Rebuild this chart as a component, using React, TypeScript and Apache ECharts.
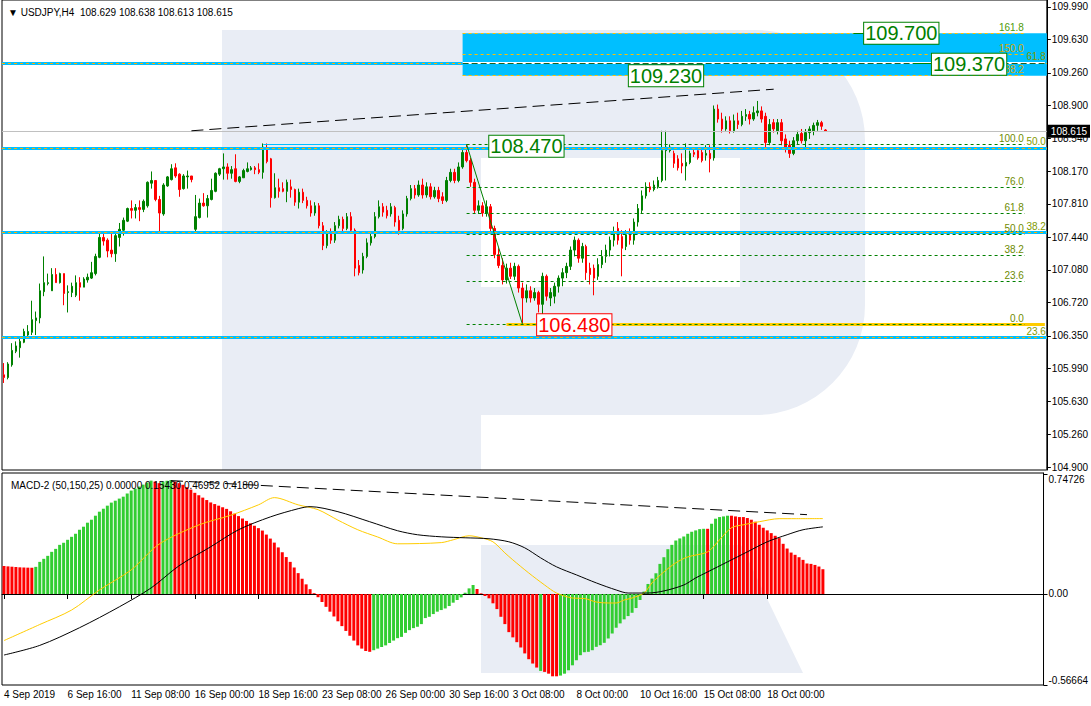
import React, { useEffect, useRef } from 'react';
import * as echarts from 'echarts';

const FONT = 'Liberation Sans, Arial, sans-serif';

const timeLabels = ['4 Sep 2019', '6 Sep 16:00', '11 Sep 08:00', '16 Sep 00:00', '18 Sep 16:00', '23 Sep 08:00', '26 Sep 00:00', '30 Sep 16:00', '3 Oct 08:00', '8 Oct 00:00', '10 Oct 16:00', '15 Oct 08:00', '18 Oct 00:00'];
const priceTicks = [104.9, 105.26, 105.63, 105.99, 106.35, 106.72, 107.08, 107.44, 107.81, 108.17, 108.54, 108.9, 109.26, 109.63, 109.99];
const macdTicks = [-0.56664, 0, 0.74726];

const opens = [105.92,105.89,106.03,106.18,106.22,106.28,106.36,106.39,106.52,106.55,106.84,106.93,106.85,107.03,106.94,107.04,106.83,106.83,106.80,106.94,106.89,106.97,106.99,107.04,107.22,107.44,107.41,107.30,107.26,107.44,107.52,107.62,107.76,107.74,107.77,107.75,107.79,108.04,108.07,107.86,107.70,108.01,108.08,108.21,108.14,107.98,108.11,108.12,107.53,107.66,107.82,107.79,107.86,107.95,108.14,108.20,108.22,108.15,108.20,108.06,108.10,108.17,108.19,108.21,108.19,108.16,108.42,108.31,107.88,107.99,107.98,107.95,108.00,107.97,107.83,107.94,107.85,107.79,107.71,107.79,107.57,107.35,107.50,107.41,107.57,107.64,107.54,107.67,107.52,107.13,107.08,107.23,107.38,107.45,107.67,107.78,107.74,107.70,107.77,107.63,107.54,107.70,107.87,107.98,107.91,108.02,107.91,108.00,107.89,107.96,107.89,107.85,108.07,108.16,108.07,108.22,108.38,108.29,108.05,107.74,107.79,107.71,107.78,107.54,107.25,107.13,106.97,107.10,107.01,107.12,106.88,106.77,106.85,106.77,106.83,106.70,107.01,106.77,106.79,106.90,106.99,107.05,107.12,107.30,107.41,107.21,107.34,107.10,107.10,107.01,107.14,107.23,107.30,107.41,107.54,107.45,107.34,107.47,107.41,107.61,107.74,107.90,108.00,107.97,108.00,108.07,108.40,108.40,108.37,108.31,108.26,108.23,108.27,108.38,108.40,108.38,108.35,108.37,108.32,108.86,108.75,108.64,108.73,108.62,108.73,108.69,108.78,108.80,108.75,108.82,108.84,108.78,108.49,108.71,108.62,108.71,108.53,108.46,108.37,108.51,108.59,108.51,108.60,108.62,108.68,108.71,108.629];
const closes = [105.89,106.04,106.19,106.24,106.29,106.40,106.40,106.53,106.55,106.85,106.94,106.94,107.03,106.94,107.04,106.82,106.84,106.90,106.94,106.89,106.98,107.00,107.05,107.23,107.44,107.40,107.29,107.26,107.46,107.53,107.63,107.76,107.74,107.77,107.75,107.84,108.05,108.07,107.86,107.71,108.02,108.11,108.20,108.12,107.97,108.12,108.12,108.08,107.67,107.82,107.79,107.87,107.96,108.15,108.20,108.22,108.15,108.19,108.06,108.11,108.18,108.20,108.21,108.19,108.16,108.44,108.28,107.88,107.99,107.95,107.95,108.05,107.97,107.83,107.94,107.85,107.79,107.71,107.79,107.57,107.35,107.50,107.41,107.57,107.64,107.54,107.67,107.52,107.10,107.05,107.23,107.38,107.45,107.67,107.78,107.72,107.68,107.78,107.61,107.52,107.70,107.87,107.98,107.91,108.02,107.91,108.00,107.89,107.96,107.87,107.85,108.07,108.16,108.07,108.22,108.38,108.29,108.05,107.74,107.79,107.71,107.78,107.54,107.25,107.13,106.97,107.10,107.01,107.12,106.88,106.77,106.85,106.77,106.83,106.70,107.01,106.79,106.83,106.90,106.99,107.05,107.12,107.30,107.41,107.21,107.34,107.05,107.03,106.99,107.14,107.23,107.30,107.41,107.50,107.41,107.32,107.47,107.41,107.61,107.76,107.90,108.00,107.97,108.02,108.07,108.40,108.44,108.44,108.26,108.21,108.23,108.27,108.37,108.36,108.32,108.29,108.37,108.31,108.86,108.75,108.64,108.73,108.62,108.73,108.69,108.78,108.80,108.75,108.82,108.84,108.75,108.49,108.69,108.64,108.71,108.51,108.42,108.37,108.51,108.58,108.51,108.60,108.64,108.68,108.71,108.67,108.615];
const highs = [106.05,106.06,106.27,106.29,106.34,106.43,106.47,106.74,106.62,106.93,107.23,107.04,107.10,107.10,107.05,107.04,106.91,106.94,107.02,107.00,107.00,107.04,107.17,107.26,107.48,107.48,107.43,107.48,107.48,107.60,107.66,107.77,107.85,107.81,107.85,107.86,108.06,108.17,108.07,107.90,108.04,108.12,108.25,108.26,108.15,108.14,108.18,108.12,107.91,107.87,107.93,107.91,108.09,108.16,108.21,108.37,108.26,108.23,108.36,108.12,108.20,108.27,108.23,108.23,108.26,108.48,108.48,108.32,108.15,108.09,108.05,108.08,108.08,107.98,107.98,107.98,107.89,107.85,107.83,107.82,107.61,107.52,107.54,107.61,107.68,107.67,107.71,107.72,107.54,107.19,107.27,107.43,107.50,107.72,107.85,107.82,107.79,107.82,107.79,107.68,107.74,107.90,108.02,108.02,108.07,108.09,108.05,108.04,108.00,108.00,107.94,108.11,108.20,108.20,108.27,108.44,108.47,108.32,108.09,107.85,107.83,107.85,107.81,107.57,107.32,107.21,107.15,107.16,107.16,107.14,106.94,106.92,106.90,106.88,106.85,107.05,107.03,106.88,106.94,107.02,107.10,107.16,107.34,107.45,107.43,107.38,107.36,107.16,107.14,107.21,107.30,107.36,107.45,107.56,107.61,107.52,107.52,107.54,107.65,107.81,107.96,108.05,108.05,108.07,108.11,108.62,108.62,108.47,108.40,108.35,108.37,108.48,108.40,108.41,108.42,108.43,108.46,108.46,108.90,108.91,108.82,108.78,108.78,108.80,108.82,108.84,108.86,108.84,108.89,108.95,108.89,108.82,108.75,108.75,108.75,108.75,108.58,108.51,108.55,108.62,108.64,108.64,108.67,108.71,108.74,108.73,108.638];
const lows = [105.83,105.87,106.01,106.16,106.11,106.27,106.32,106.36,106.36,106.49,106.79,106.91,106.85,106.94,106.93,106.69,106.61,106.78,106.78,106.74,106.89,106.94,106.98,107.02,107.21,107.35,107.22,107.22,107.17,107.34,107.46,107.61,107.65,107.65,107.62,107.72,107.77,107.98,107.84,107.51,107.68,108.00,108.07,108.10,107.89,107.97,107.98,108.05,107.50,107.65,107.78,107.66,107.85,107.94,108.12,108.08,108.08,108.09,108.05,108.04,108.10,108.16,108.18,108.14,108.14,108.09,108.26,107.77,107.87,107.88,107.94,107.83,107.88,107.79,107.76,107.82,107.76,107.67,107.68,107.54,107.30,107.32,107.37,107.38,107.54,107.50,107.52,107.48,107.01,107.02,107.04,107.21,107.35,107.43,107.65,107.67,107.65,107.67,107.56,107.47,107.52,107.67,107.85,107.87,107.89,107.87,107.88,107.86,107.87,107.83,107.81,107.83,108.05,108.04,108.05,108.20,108.27,108.00,107.70,107.70,107.67,107.67,107.50,107.21,107.10,106.92,106.93,106.98,106.97,106.83,106.48,106.72,106.72,106.74,106.61,106.59,106.74,106.68,106.71,106.83,106.90,106.99,107.08,107.23,107.16,107.16,106.97,106.92,106.80,106.97,107.10,107.16,107.23,107.34,107.36,107.01,107.30,107.36,107.36,107.56,107.70,107.87,107.94,107.95,107.98,108.05,108.07,108.38,108.21,108.18,108.15,108.07,108.25,108.33,108.30,108.27,108.29,108.16,108.29,108.71,108.60,108.62,108.59,108.60,108.64,108.67,108.73,108.69,108.73,108.78,108.71,108.44,108.46,108.60,108.58,108.46,108.38,108.32,108.35,108.47,108.48,108.44,108.53,108.57,108.62,108.63,108.613];

const macdHist = [0.175,0.172,0.17,0.168,0.166,0.165,0.164,0.163,0.169,0.2,0.219,0.2375,0.2625,0.281,0.306,0.319,0.3375,0.356,0.375,0.4,0.419,0.444,0.4625,0.4875,0.5125,0.531,0.55,0.569,0.581,0.594,0.606,0.625,0.644,0.656,0.669,0.681,0.694,0.706,0.7,0.69,0.7,0.705,0.71,0.7,0.69,0.68,0.665,0.65,0.63,0.615,0.6,0.585,0.57,0.56,0.55,0.54,0.53,0.515,0.5,0.485,0.47,0.455,0.44,0.425,0.41,0.395,0.37,0.345,0.32,0.29,0.26,0.23,0.2,0.165,0.13,0.095,0.06,0.03,0.005,-0.02,-0.05,-0.08,-0.11,-0.14,-0.17,-0.2,-0.23,-0.26,-0.29,-0.32,-0.34,-0.355,-0.36,-0.35,-0.34,-0.33,-0.32,-0.305,-0.29,-0.275,-0.267,-0.242,-0.225,-0.2125,-0.204,-0.1875,-0.15,-0.142,-0.125,-0.11,-0.1,-0.09,-0.075,-0.054,-0.0375,-0.021,0.008,0.035,0.056,0.031,0.004,-0.0125,-0.027,-0.058,-0.094,-0.142,-0.1875,-0.2375,-0.27,-0.3,-0.333,-0.37,-0.406,-0.433,-0.458,-0.479,-0.485,-0.496,-0.5125,-0.5125,-0.508,-0.496,-0.475,-0.444,-0.4125,-0.381,-0.3625,-0.36,-0.35,-0.329,-0.319,-0.304,-0.277,-0.246,-0.21,-0.183,-0.158,-0.1375,-0.117,-0.0875,-0.0375,0.015,0.0625,0.096,0.129,0.1875,0.229,0.279,0.306,0.333,0.346,0.358,0.375,0.3875,0.396,0.404,0.406,0.406,0.4375,0.469,0.479,0.483,0.4875,0.4875,0.483,0.479,0.479,0.473,0.4625,0.45,0.431,0.4125,0.396,0.379,0.3625,0.348,0.3125,0.283,0.258,0.244,0.229,0.2125,0.19,0.1875,0.181,0.171,0.1543];
const macdColorRuns: [string, number][] = [['r', 8], ['g', 30], ['r', 2], ['g', 3], ['r', 50], ['g', 26], ['r', 16], ['g', 1], ['r', 4], ['g', 37], ['r', 1], ['g', 5], ['r', 24]];

const signalBars = [0,9,17,24,32,39,49,57,64,68,74,79,84,89,94,99,110,113,117,120,123,126,128,132,136,139,143,146,149,152,154,156,158,161,163,166,169,172,177,180,183,186,190,195,199,206];
const signalVals = [-0.29,-0.19,-0.10,0.025,0.15,0.31,0.43,0.49,0.555,0.60,0.555,0.525,0.46,0.40,0.355,0.3125,0.32,0.3375,0.3625,0.35,0.325,0.256,0.2125,0.131,0.056,0.006,-0.025,-0.028,-0.05,-0.056,-0.056,-0.0375,-0.025,0.006,0.069,0.1375,0.194,0.231,0.2625,0.3375,0.4125,0.431,0.45,0.469,0.469,0.4695];
const slowBars = [0,9,19,29,37,44,52,59,67,74,77,84,92,99,104,110,116,122,127,131,135,139,144,149,154,157,162,166,171,174,177,182,187,192,197,201,206];
const slowVals = [-0.38,-0.32,-0.21,-0.08,0.0375,0.175,0.294,0.40,0.48,0.531,0.544,0.5125,0.45,0.394,0.369,0.356,0.35,0.344,0.325,0.2875,0.225,0.169,0.119,0.069,0.025,0.006,0.006,0.019,0.056,0.1,0.1375,0.2,0.2625,0.325,0.369,0.40,0.418];

const bidPrice = 108.615;
const fiboHigh = { bar: 116, price: 108.47 };
const fiboLow = { bar: 130, price: 106.48 };
const fiboEndBar = 256;
const fiboRetLabels = ['0.0', '23.6', '38.2', '50.0', '61.8', '76.0', '100.0'];
const fiboRetPrices = [106.48, 106.95, 107.24, 107.475, 107.71, 107.99, 108.47];
const fiboExtLabels = ['161.8', '150.0', '38.2'];
const fiboExtPrices = [109.70, 109.465, 109.23];
const fiboWideLabels = ['61.8', '50.0', '38.2', '23.6'];
const fiboWidePrices = [109.37, 108.43, 107.495, 106.335];
const zoneStartBar = 115;
const zoneTop = 109.70;
const zoneBottom = 109.23;
const zoneMidLine = 109.37;
const trendPrice = [{ bar: 47, price: 108.62 }, { bar: 193, price: 109.08 }];
const trendMacd = [{ bar: 42, value: 0.706 }, { bar: 202, value: 0.494 }];
const tagTexts = ['108.470', '109.230', '109.700', '109.370', '106.480'];
const tagBars = [131, 166, 225, 242, 143];
const tagPrices = [108.45, 109.23, 109.70, 109.355, 106.474];

const N_SLOTS = 262;

export default function App() {
  const ref = useRef<HTMLDivElement>(null);
  useEffect(() => {
    const chart = echarts.init(ref.current!, null, { renderer: 'svg' });
    const cats = Array.from({ length: N_SLOTS }, (_, i) => String(i));
    const candleData = opens.map((o, i) => [o, closes[i], lows[i], highs[i]]);
    const colorFlags: string[] = [];
    macdColorRuns.forEach(([c, n]) => { for (let k = 0; k < n; k++) colorFlags.push(c); });
    const histData = macdHist.map((v, i) => ({ value: v, itemStyle: { color: colorFlags[i] === 'g' ? '#32CD32' : '#FF0000' } }));
    const sigData = signalBars.map((b, i) => [b, signalVals[i]]);
    const slowData = slowBars.map((b, i) => [b, slowVals[i]]);

    const lvlLabel = (text: string, color: string) => ({
      show: true, formatter: text, position: 'insideEndTop', color, fontSize: 10, fontFamily: FONT, distance: [1, 1],
    });
    const noLabel = { show: false };

    const markLines: any[] = [];
    markLines.push({ yAxis: bidPrice, lineStyle: { color: '#C0C0C0', width: 1, type: 'solid' },
      label: { show: true, position: 'end', formatter: '108.615', color: '#fff', backgroundColor: '#000', padding: [2, 3, 1, 3], fontSize: 10, fontFamily: FONT, distance: 1 } });
    fiboWidePrices.forEach((p, i) => {
      markLines.push({ yAxis: p, lineStyle: { color: '#00BFFF', width: 3, type: 'solid' }, label: noLabel });
      markLines.push({ yAxis: p, lineStyle: { color: '#FFB000', width: 1, type: [3, 3] }, label: lvlLabel(fiboWideLabels[i], '#7F9A00') });
    });
    // white + dark dashed line inside the zone
    markLines.push([{ coord: [zoneStartBar, zoneMidLine], lineStyle: { color: '#FFFFFF', width: 2, type: 'solid' }, label: noLabel }, { coord: [N_SLOTS - 1, zoneMidLine] }]);
    markLines.push([{ coord: [zoneStartBar, zoneMidLine], lineStyle: { color: '#1F5F1F', width: 1, type: [6, 3] }, label: noLabel }, { coord: [N_SLOTS - 1, zoneMidLine] }]);
    markLines.push([{ coord: [65, fiboHigh.price], lineStyle: { color: '#00BFFF', width: 1, type: 'solid' }, label: noLabel }, { coord: [fiboHigh.bar, fiboHigh.price] }]);
    markLines.push([{ coord: [126, fiboLow.price], lineStyle: { color: '#FFCC00', width: 3, type: 'solid' }, label: noLabel }, { coord: [N_SLOTS - 1, fiboLow.price] }]);
    fiboRetPrices.forEach((p, i) => {
      markLines.push([{ coord: [fiboHigh.bar, p], lineStyle: { color: '#008000', width: 1, type: [3, 3] }, label: lvlLabel(fiboRetLabels[i], '#6E8B00') }, { coord: [fiboEndBar, p] }]);
    });
    fiboExtPrices.forEach((p, i) => {
      markLines.push([{ coord: [zoneStartBar, p], lineStyle: { color: '#FFC000', width: 1, type: [3, 3] }, label: lvlLabel(fiboExtLabels[i], i === 0 ? '#4E9A06' : '#D4A800') }, { coord: [fiboEndBar, p] }]);
    });
    markLines.push([{ coord: [fiboHigh.bar, fiboHigh.price], lineStyle: { color: '#008000', width: 1, type: 'solid' }, label: noLabel }, { coord: [fiboLow.bar, fiboLow.price] }]);
    markLines.push([{ coord: [trendPrice[0].bar, trendPrice[0].price], lineStyle: { color: '#000', width: 1, type: [12, 6] }, label: noLabel }, { coord: [trendPrice[1].bar, trendPrice[1].price] }]);
    markLines.push([{ coord: [213, 109.70], lineStyle: { color: '#008000', width: 1, type: 'solid' }, label: noLabel }, { coord: [217, 109.70] }]);
    markLines.push([{ coord: [228, 109.37], lineStyle: { color: '#008000', width: 1, type: 'solid' }, label: noLabel }, { coord: [234, 109.37] }]);

    const tags = tagTexts.map((t, i) => {
      const red = t === '106.480';
      const c = red ? '#FF0000' : '#008000';
      return {
        coord: [tagBars[i], tagPrices[i]], value: t,
        label: { show: true, position: 'inside', formatter: t, color: c, fontSize: 20, fontFamily: FONT,
          backgroundColor: '#fff', borderColor: c, borderWidth: 1, padding: [1, 1, 0, 1] },
      };
    });

    const wm = '#E9EDF5';
    const option: any = {
      animation: false,
      backgroundColor: '#fff',
      textStyle: { fontFamily: FONT },
      title: [
        { text: '▼ USDJPY,H4  108.629 108.638 108.613 108.615', left: 3, top: 2, textStyle: { fontSize: 10, fontWeight: 'normal', color: '#000', fontFamily: FONT } },
        { text: 'MACD-2 (50,150,25) 0.00000 0.15430 0.46952 0.41809', left: 6, top: 475, textStyle: { fontSize: 10, fontWeight: 'normal', color: '#000', fontFamily: FONT } },
      ],
      graphic: {
        elements: [
          { type: 'rect', z: -1, shape: { x: 222, y: 30, width: 259, height: 440 }, style: { fill: wm } },
          { type: 'rect', z: -1, shape: { x: 481, y: 30, width: 384, height: 385, r: [0, 110, 110, 0] }, style: { fill: wm } },
          { type: 'rect', z: -1, shape: { x: 481, y: 158, width: 259, height: 129 }, style: { fill: '#fff' } },
          { type: 'polygon', z: -1, shape: { points: [[481, 545], [741, 545], [803, 673], [481, 673]] }, style: { fill: wm } },
        ],
      },
      grid: [
        { left: 2, right: 40, top: -1, height: 471, show: true, borderColor: '#000', borderWidth: 1, backgroundColor: 'transparent' },
        { left: 2, right: 40, top: 473, height: 212, show: true, borderColor: '#000', borderWidth: 1, backgroundColor: 'transparent' },
      ],
      xAxis: [
        { type: 'category', gridIndex: 0, data: cats, show: false },
        {
          type: 'category', gridIndex: 1, data: cats,
          axisLine: { show: true, lineStyle: { color: '#000' } },
          axisTick: { show: true, alignWithLabel: true, length: 5, lineStyle: { color: '#000' }, interval: (i: number) => i % 16 === 0 && i / 16 < timeLabels.length },
          axisLabel: { show: true, interval: (i: number) => i % 16 === 0 && i / 16 < timeLabels.length, formatter: (_v: string, i: number) => timeLabels[i / 16] ?? '', align: 'left', color: '#000', fontSize: 10, fontFamily: FONT, margin: 4 },
          splitLine: { show: false },
        },
      ],
      yAxis: [
        {
          type: 'value', gridIndex: 0, position: 'right', min: 104.867, max: 110.067, scale: true,
          axisLine: { show: true, lineStyle: { color: '#000' } },
          axisTick: { show: true, length: 4, lineStyle: { color: '#000' }, customValues: priceTicks },
          axisLabel: { show: true, customValues: priceTicks, formatter: (v: number) => v.toFixed(3), color: '#000', fontSize: 10, fontFamily: FONT, margin: 5 },
          splitLine: { show: false },
        },
        {
          type: 'value', gridIndex: 1, position: 'right', min: -0.56664, max: 0.7534,
          axisLine: { show: true, lineStyle: { color: '#000' } },
          axisTick: { show: true, length: 4, lineStyle: { color: '#000' }, customValues: macdTicks },
          axisLabel: {
            show: true, customValues: macdTicks, color: '#000', fontSize: 10, fontFamily: FONT, margin: 5,
            formatter: (v: number) => (v === 0 ? '0.00' : v > 0 ? '{t|' + v.toFixed(5) + '}' : '{b|' + v.toFixed(5) + '}'),
            rich: { t: { padding: [12, 0, 0, 0], fontSize: 10, fontFamily: FONT, color: '#000' }, b: { padding: [0, 0, 10, 0], fontSize: 10, fontFamily: FONT, color: '#000' } },
          },
          splitLine: { show: false },
        },
      ],
      series: [
        {
          type: 'candlestick', xAxisIndex: 0, yAxisIndex: 0, data: candleData, barWidth: 2,
          itemStyle: { color: '#008000', color0: '#FF0000', borderColor: '#008000', borderColor0: '#FF0000', borderWidth: 1 },
          silent: true,
          markArea: {
            silent: true,
            itemStyle: { color: '#00BFFF', opacity: 1 },
            data: [[{ xAxis: zoneStartBar, yAxis: zoneTop }, { yAxis: zoneBottom }]],
          },
          markLine: { silent: true, symbol: ['none', 'none'], animation: false, precision: 3, data: markLines },
          markPoint: { silent: true, symbol: 'rect', symbolSize: 1, itemStyle: { color: 'rgba(0,0,0,0)' }, data: tags, animation: false },
        },
        {
          type: 'bar', xAxisIndex: 1, yAxisIndex: 1, data: histData, barWidth: 3, silent: true,
          markLine: {
            silent: true, symbol: ['none', 'none'], animation: false,
            data: [[{ coord: [trendMacd[0].bar, trendMacd[0].value], lineStyle: { color: '#000', width: 1, type: [12, 6] }, label: { show: false } }, { coord: [trendMacd[1].bar, trendMacd[1].value] }]],
          },
        },
        { type: 'line', xAxisIndex: 1, yAxisIndex: 1, data: sigData, showSymbol: false, smooth: 0.3, silent: true, lineStyle: { color: '#FFCC00', width: 1 } },
        { type: 'line', xAxisIndex: 1, yAxisIndex: 1, data: slowData, showSymbol: false, smooth: 0.3, silent: true, lineStyle: { color: '#000', width: 1 } },
      ],
    };
    chart.setOption(option);
    return () => chart.dispose();
  }, []);
  return <div ref={ref} style={{ position: 'fixed', left: 0, top: 0, width: 1091, height: 706, background: '#fff' }} />;
}
